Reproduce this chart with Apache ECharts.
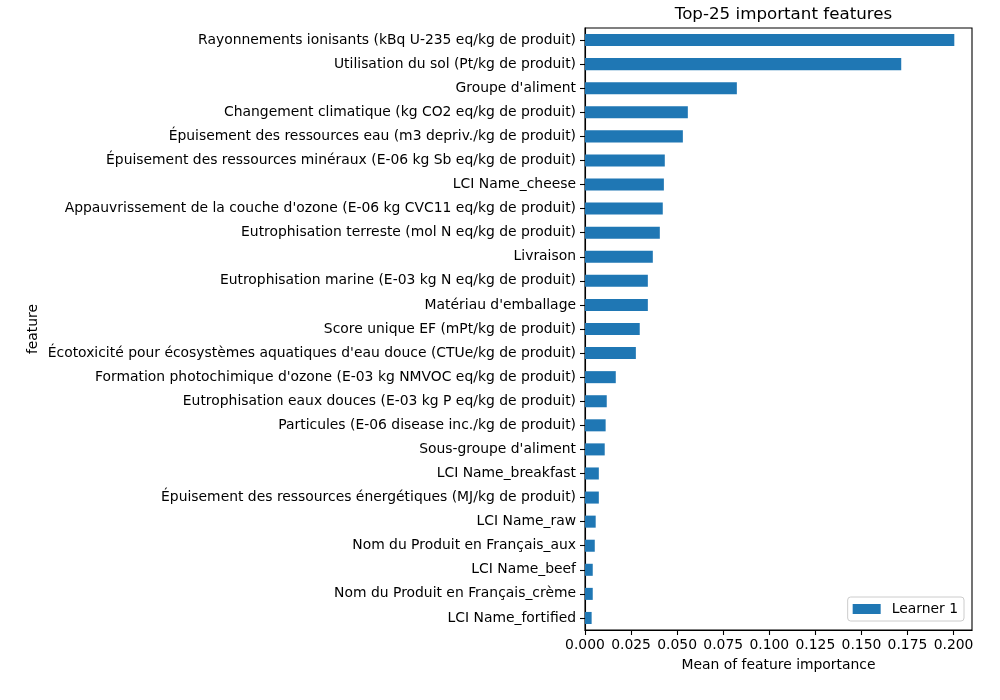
<!DOCTYPE html>
<html>
<head>
<meta charset="utf-8">
<script src="https://cdn.jsdelivr.net/npm/echarts@6/dist/echarts.min.js"></script>
<style>html,body{margin:0;padding:0;background:#fff}#c{width:1000px;height:700px}</style>
</head>
<body>
<div id="c"></div>
<script>
const categories = [
  "Rayonnements ionisants (kBq U-235 eq/kg de produit)",
  "Utilisation du sol (Pt/kg de produit)",
  "Groupe d'aliment",
  "Changement climatique (kg CO2 eq/kg de produit)",
  "Épuisement des ressources eau (m3 depriv./kg de produit)",
  "Épuisement des ressources minéraux (E-06 kg Sb eq/kg de produit)",
  "LCI Name_cheese",
  "Appauvrissement de la couche d'ozone (E-06 kg CVC11 eq/kg de produit)",
  "Eutrophisation terreste (mol N eq/kg de produit)",
  "Livraison",
  "Eutrophisation marine (E-03 kg N eq/kg de produit)",
  "Matériau d'emballage",
  "Score unique EF (mPt/kg de produit)",
  "Écotoxicité pour écosystèmes aquatiques d'eau douce (CTUe/kg de produit)",
  "Formation photochimique d'ozone (E-03 kg NMVOC eq/kg de produit)",
  "Eutrophisation eaux douces (E-03 kg P eq/kg de produit)",
  "Particules (E-06 disease inc./kg de produit)",
  "Sous-groupe d'aliment",
  "LCI Name_breakfast",
  "Épuisement des ressources énergétiques (MJ/kg de produit)",
  "LCI Name_raw",
  "Nom du Produit en Français_aux",
  "LCI Name_beef",
  "Nom du Produit en Français_crème",
  "LCI Name_fortified"
];
const learner1 = [
  0.2004, 0.1716, 0.0824, 0.0558, 0.0531, 0.0433, 0.0428, 0.0422, 0.0406, 0.0368,
  0.0341, 0.0341, 0.0297, 0.0276, 0.0167, 0.0118, 0.0112, 0.0107, 0.0075, 0.0075,
  0.0058, 0.0053, 0.0042, 0.0042, 0.0036
];
const xTicks = { min: 0, max: 0.21, interval: 0.025 };

const font = "DejaVu Sans";
const chart = echarts.init(document.getElementById('c'), null, {renderer: 'canvas'});
chart.setOption({
  animation: false,
  backgroundColor: '#fff',
  textStyle: { fontFamily: font },
  title: {
    text: 'Top-25 important features',
    left: 778.5, top: 1, textAlign: 'center',
    textStyle: { fontFamily: font, fontSize: 16.7, fontWeight: 'normal', color: '#000' }
  },
  grid: {
    left: 585, right: 28, top: 28, bottom: 70,
    show: true, borderColor: '#000', borderWidth: 1.1, backgroundColor: 'transparent',
    containLabel: false
  },
  legend: {
    data: ['Learner 1'],
    right: 36, bottom: 79,
    orient: 'vertical',
    icon: 'rect', itemWidth: 28, itemHeight: 10, itemGap: 8,
    padding: [5, 6, 5, 5],
    borderColor: '#cccccc', borderWidth: 1, borderRadius: 3,
    backgroundColor: 'rgba(255,255,255,0.8)',
    textStyle: { fontFamily: font, fontSize: 13.9, color: '#000', padding: [0, 0, 0, 6] }
  },
  xAxis: {
    type: 'value',
    min: xTicks.min, max: xTicks.max, interval: xTicks.interval,
    name: 'Mean of feature importance', nameLocation: 'middle', nameGap: 28,
    nameTextStyle: { fontFamily: font, fontSize: 13.9, color: '#000' },
    axisLine: { show: true, lineStyle: { color: '#000', width: 1.1 } },
    axisTick: { show: true, length: 5, lineStyle: { color: '#000', width: 1.1 } },
    axisLabel: { fontFamily: font, fontSize: 13.9, color: '#000', margin: 8,
      showMaxLabel: false,
      formatter: v => (Math.abs(v - 0.21) < 1e-9 ? '' : v.toFixed(3)) },
    splitLine: { show: false }
  },
  yAxis: {
    type: 'category',
    data: categories,
    inverse: true,
    name: 'feature', nameLocation: 'middle', nameGap: 545, nameRotate: 90,
    nameTextStyle: { fontFamily: font, fontSize: 13.9, color: '#000' },
    axisLine: { show: true, lineStyle: { color: '#000', width: 1.1 } },
    axisTick: { show: true, alignWithLabel: true, length: 5, lineStyle: { color: '#000', width: 1.1 } },
    axisLabel: { fontFamily: font, fontSize: 13.9, color: '#000', margin: 9, interval: 0 },
    splitLine: { show: false }
  },
  series: [{
    name: 'Learner 1',
    type: 'bar',
    data: learner1,
    barWidth: '50%',
    itemStyle: { color: '#1f77b4' }
  }]
});
</script>
</body>
</html>
